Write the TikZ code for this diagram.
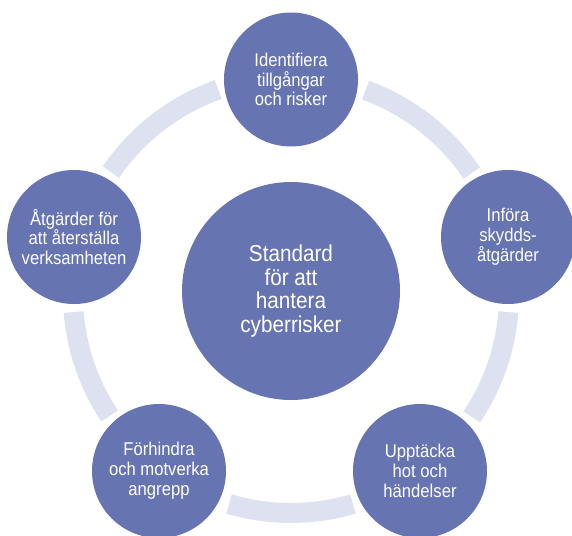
\documentclass[tikz,border=0pt]{standalone}
\usepackage{fontspec}
\setmainfont{Liberation Sans}[FakeStretch=0.9]
\usepackage{xcolor}

\definecolor{discblue}{RGB}{103,116,178}
\definecolor{ringblue}{RGB}{222,225,240}

\tikzset{
  disc/.style={circle, fill=discblue, text=white, inner sep=0pt,
    align=center, minimum size=134pt,
    font=\fontsize{18.5}{19.8}\selectfont},
  hubdisc/.style={disc, minimum size=218pt,
    font=\fontsize{23}{23.6}\selectfont},
  ringpart/.style={draw=ringblue, line width=20pt, line cap=butt}
}

\begin{document}
\begin{tikzpicture}[x=1pt,y=1pt]
\useasboundingbox (0,0) rectangle (572,-535);
\coordinate (hub) at (291,-295);

% ring pieces between the discs
\foreach \a/\b in {34/70, -34/-4.5, -106.5/-73.5, 184.5/213.7, 109.5/145.7}
  \draw[ringpart] (hub) ++(\a:218pt) arc[start angle=\a, end angle=\b, radius=218pt];

\node[hubdisc] (standard) at (291,-291) {Standard\\för att\\hantera\\cyberrisker};

\node[disc] (identify) at (291,-79.5) {Identifiera\\tillgångar\\och risker};
\node[disc] (protect) at (508,-237) {Införa\\skydds-\\åtgärder};
\node[disc] (detect) at (420,-471) {Upptäcka\\hot och\\händelser};
\node[disc] (prevent) at (159,-471) {Förhindra\\och motverka\\angrepp};
\node[disc] (recover) at (74,-237) {Åtgärder för\\att återställa\\verksamheten};
\end{tikzpicture}
\end{document}
